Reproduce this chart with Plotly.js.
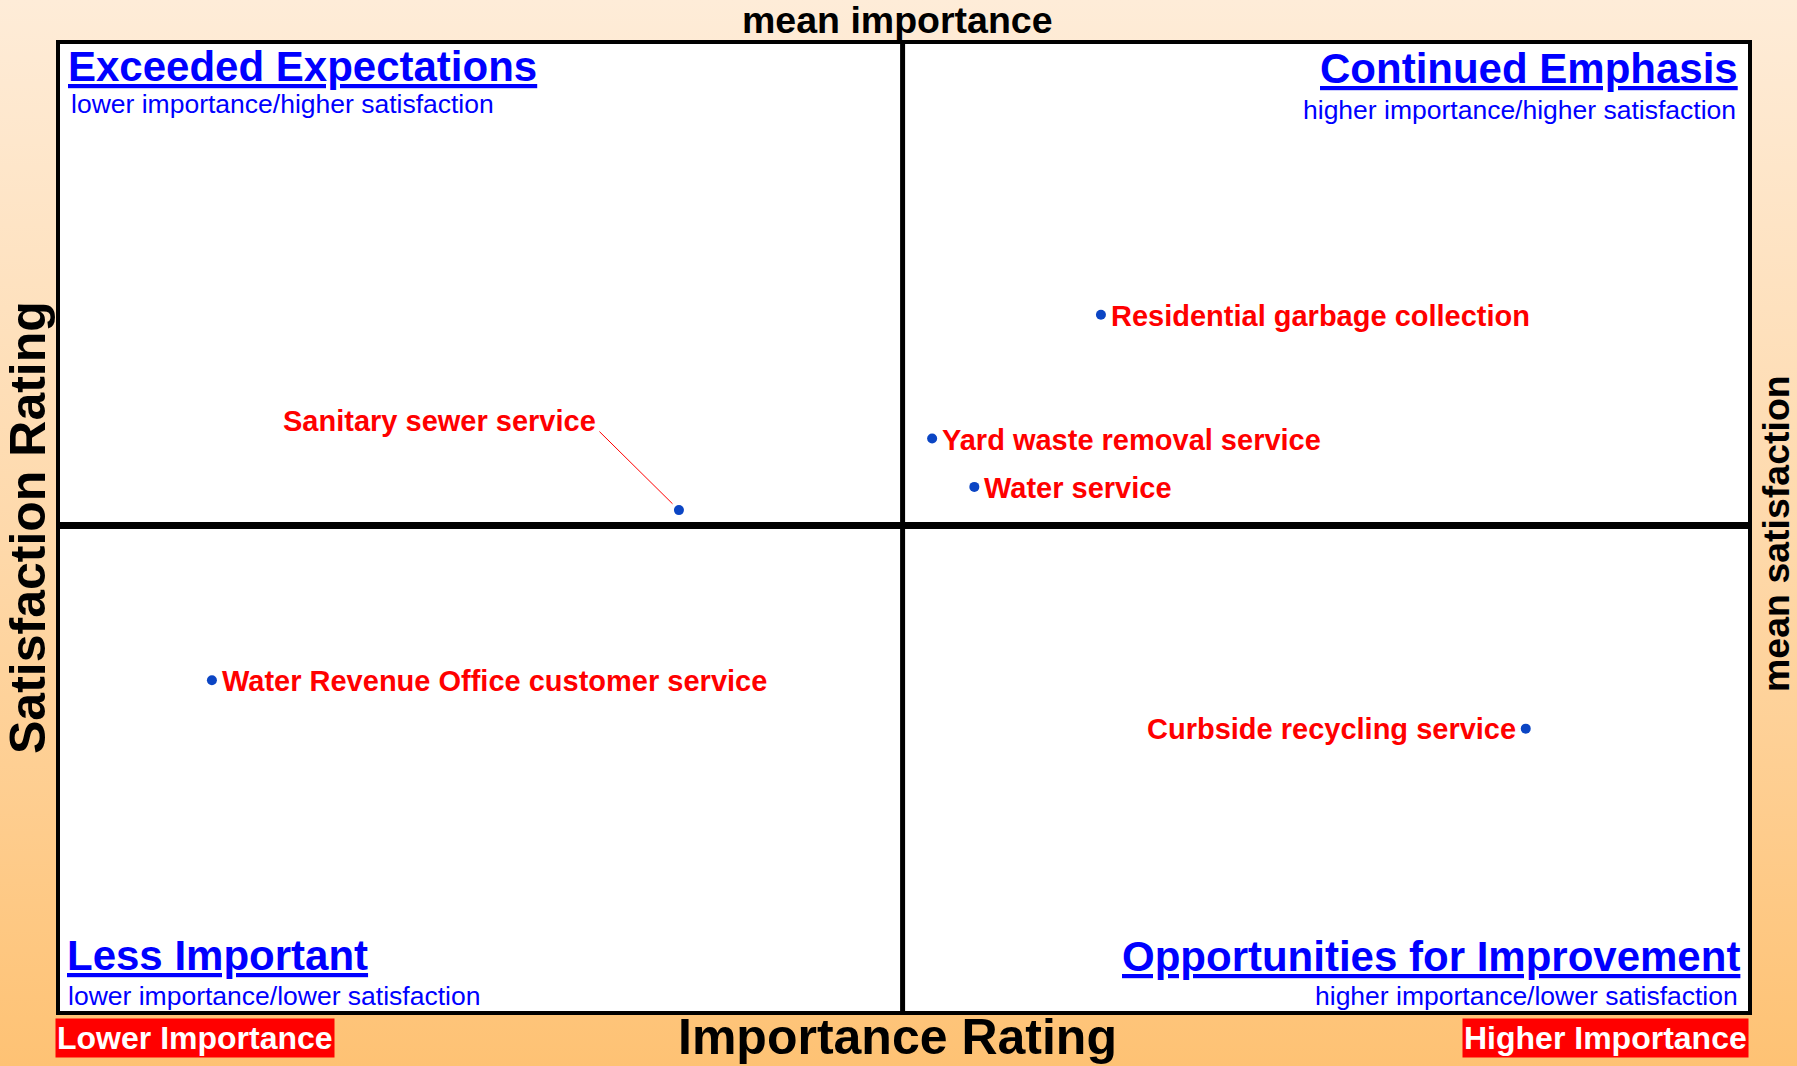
<!DOCTYPE html>
<html>
<head>
<meta charset="utf-8">
<script src="https://cdn.plot.ly/plotly-3.0.1.min.js"></script>
<style>
html, body { margin: 0; padding: 0; }
body {
  width: 1797px; height: 1066px; overflow: hidden;
  background: linear-gradient(to bottom, #feecd8 0%, #fed9ab 50%, #fec274 100%);
}
#Graph { width: 1797px; height: 1066px; }
</style>
</head>
<body>
<div id="Graph"></div>
<script>
var services = ['Residential garbage collection', 'Yard waste removal service', 'Water service',
  'Sanitary sewer service', 'Water Revenue Office customer service', 'Curbside recycling service'];
var importance = [37.0, 31.0, 32.5, 22.0, 5.4, 52.1];
var satisfaction = [86.0, 79.6, 77.1, 75.9, 67.1, 64.6];
var meanImportance = 29.95;
var meanSatisfaction = 75.1;
var xRange = [0, 60];
var yRange = [50, 100];

var quadTitles = ['Exceeded Expectations', 'Continued Emphasis', 'Less Important', 'Opportunities for Improvement'];
var quadSubtitles = ['lower importance/higher satisfaction', 'higher importance/higher satisfaction',
  'lower importance/lower satisfaction', 'higher importance/lower satisfaction'];

var FONT = 'Liberation Sans, Arial, Helvetica, sans-serif';
var W = 1797, H = 1066;
var M = { l: 60, r: 49, t: 44, b: 55 };
// pixel -> paper helpers
var px = function (x) { return (x - M.l) / (W - M.l - M.r); };
var py = function (y) { return (H - M.b - y) / (H - M.t - M.b); };

var points = {
  x: importance,
  y: satisfaction,
  text: services,
  mode: 'markers',
  type: 'scatter',
  marker: { color: '#0b45c4', size: 10 },
  hoverinfo: 'text'
};

var labelFont = { family: FONT, size: 29, color: '#ff0000', weight: 'bold' };
var annos = [];
for (var i = 0; i < services.length; i++) {
  var a = {
    x: importance[i], y: satisfaction[i], xref: 'x', yref: 'y',
    text: services[i], showarrow: false, yanchor: 'middle', yshift: -1, font: labelFont
  };
  if (services[i] === 'Sanitary sewer service') {
    // leader line, then the label above-left of it
    annos.push({ x: importance[i], y: satisfaction[i], xref: 'x', yref: 'y', text: '',
      showarrow: true, arrowhead: 0, arrowwidth: 1, arrowcolor: '#ff0000',
      ax: -81, ay: -80, standoff: 9 });
    a.xanchor = 'right'; a.xshift = -81; a.yshift = 89;
  } else if (services[i] === 'Curbside recycling service') {
    a.xanchor = 'right'; a.xshift = -8; a.yshift = 0;
  } else {
    a.xanchor = 'left'; a.xshift = 8;
  }
  annos.push(a);
}

// quadrant headings (pixel spots in the page)
var qx = [66, 1740, 65, 1742];
var qy = [66, 68, 955, 956];
var sx = [69, 1738, 66, 1740];
var sy = [104, 110, 996, 996];
for (var q = 0; q < 4; q++) {
  var anchor = (q % 2 === 0) ? 'left' : 'right';
  annos.push({
    xref: 'paper', yref: 'paper', x: px(qx[q]), y: py(qy[q]), xanchor: anchor, yanchor: 'middle',
    text: '<u>' + quadTitles[q] + '</u>', showarrow: false,
    font: { family: FONT, size: 42, color: '#0000ff', weight: 'bold' }
  });
  annos.push({
    xref: 'paper', yref: 'paper', x: px(sx[q]), y: py(sy[q]), xanchor: anchor, yanchor: 'middle',
    text: quadSubtitles[q], showarrow: false,
    font: { family: FONT, size: 26.5, color: '#0000ff' }
  });
}

var bigFont = { family: FONT, size: 50, color: '#000', weight: 'bold' };
var meanFont = { family: FONT, size: 37.5, color: '#000', weight: 'bold' };
var boxFont = { family: FONT, size: 32, color: '#fff', weight: 'bold' };
annos.push(
  { xref: 'paper', yref: 'paper', x: px(897), y: py(1037), text: 'Importance Rating', showarrow: false,
    yanchor: 'middle', font: bigFont },
  { xref: 'paper', yref: 'paper', x: px(897), y: py(20), text: 'mean importance', showarrow: false,
    yanchor: 'middle', font: meanFont },
  { xref: 'paper', yref: 'paper', x: px(28), y: py(528), text: 'Satisfaction Rating', showarrow: false,
    textangle: -90, xanchor: 'center', yanchor: 'middle', font: bigFont },
  { xref: 'paper', yref: 'paper', x: px(1776), y: py(533), text: 'mean satisfaction', showarrow: false,
    textangle: -90, xanchor: 'center', yanchor: 'middle', font: meanFont },
  { xref: 'paper', yref: 'paper', x: px(55), y: py(1038), text: 'Lower Importance', showarrow: false,
    xanchor: 'left', yanchor: 'middle', bgcolor: '#ff0000', borderpad: 1, font: boxFont },
  { xref: 'paper', yref: 'paper', x: px(1749), y: py(1038), text: 'Higher Importance', showarrow: false,
    xanchor: 'right', yanchor: 'middle', bgcolor: '#ff0000', borderpad: 1, font: boxFont }
);

var layout = {
  width: W, height: H,
  margin: M,
  paper_bgcolor: 'rgba(0,0,0,0)',
  plot_bgcolor: '#ffffff',
  showlegend: false,
  xaxis: { range: xRange, showgrid: false, zeroline: false, showticklabels: false, ticks: '',
    showline: true, mirror: true, linecolor: '#000', linewidth: 4 },
  yaxis: { range: yRange, showgrid: false, zeroline: false, showticklabels: false, ticks: '',
    showline: true, mirror: true, linecolor: '#000', linewidth: 4 },
  shapes: [
    { type: 'line', xref: 'x', yref: 'paper', x0: meanImportance, x1: meanImportance, y0: 0, y1: 1,
      line: { color: '#000', width: 5 }, layer: 'below' },
    { type: 'line', xref: 'paper', yref: 'y', x0: 0, x1: 1, y0: meanSatisfaction, y1: meanSatisfaction,
      line: { color: '#000', width: 7 }, layer: 'below' }
  ],
  annotations: annos
};

Plotly.newPlot('Graph', [points], layout, { displayModeBar: false, staticPlot: true });
</script>
</body>
</html>
